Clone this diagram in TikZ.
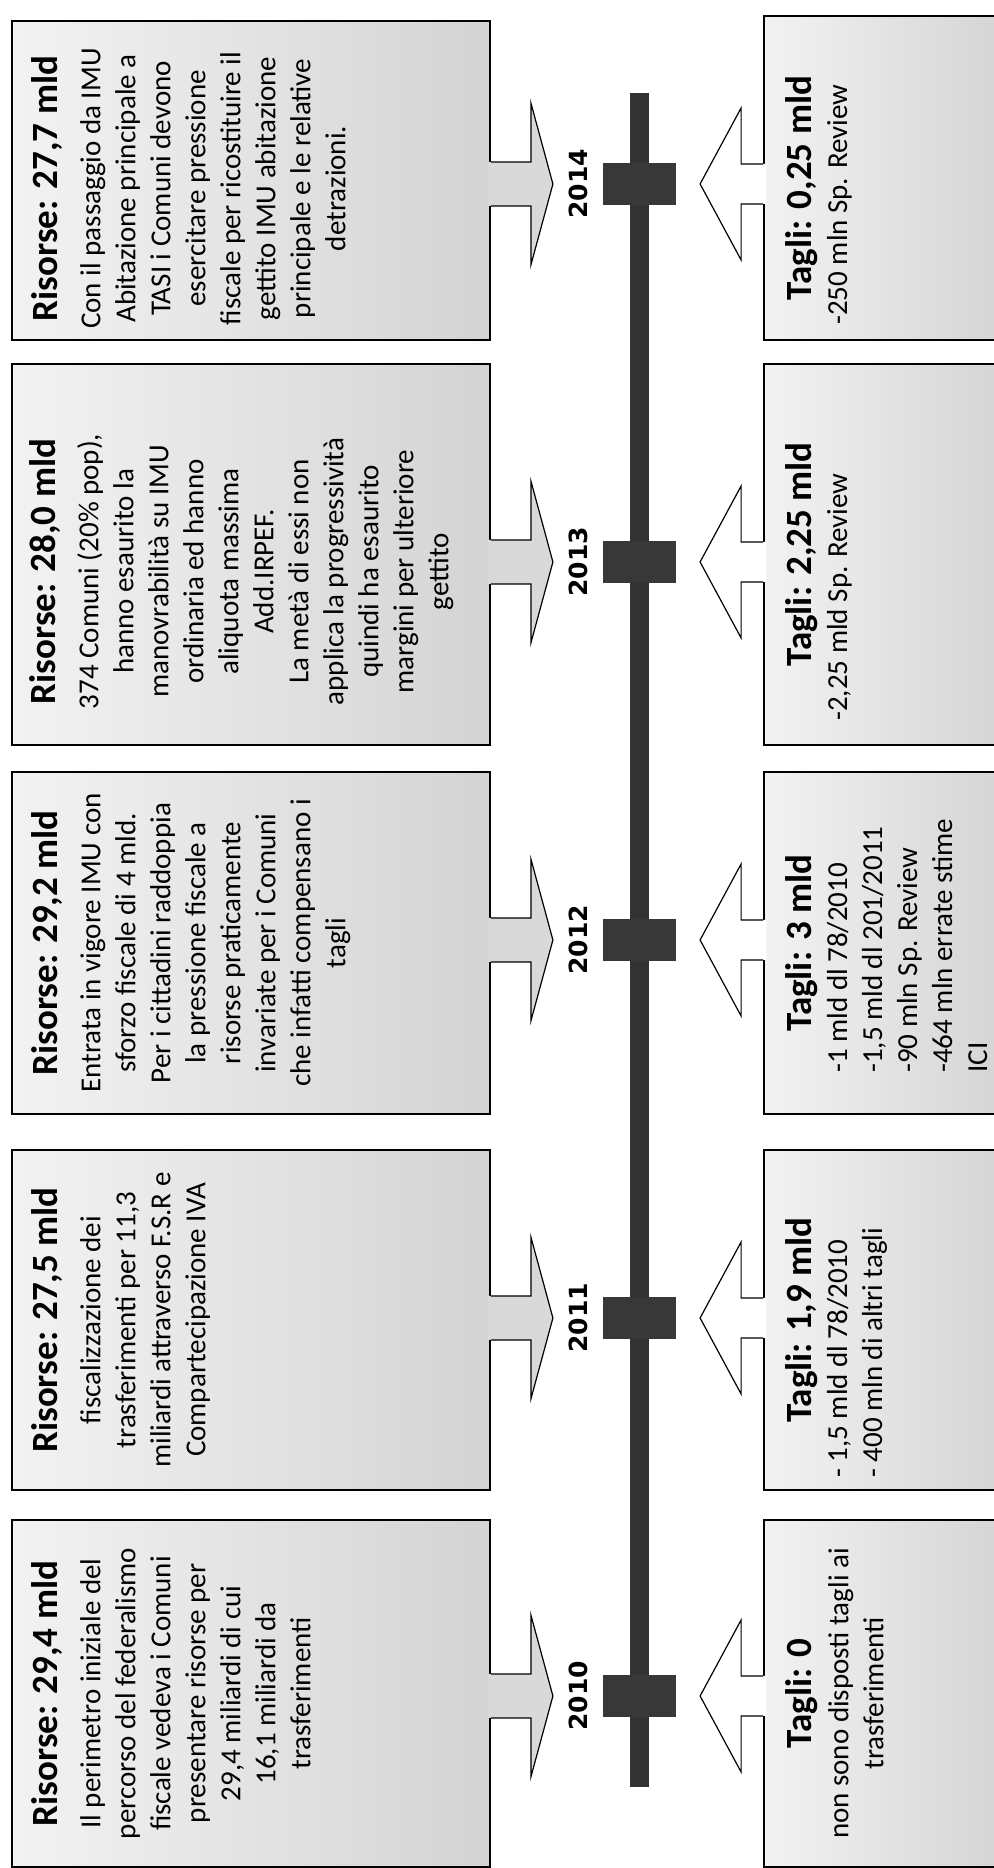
\documentclass[tikz,border=0pt]{standalone}
\usepackage{fontspec}
\setmainfont{Carlito}
\newfontfamily\yearfont{DejaVu Sans}
\usetikzlibrary{positioning,calc}

\newcommand{\boxtitle}[1]{{\fontsize{37}{35}\selectfont\bfseries #1}}

\tikzset{
  rbox/.style={draw, line width=1.8pt, left color=black!5, right color=black!17, minimum width=478pt, inner sep=0pt},
  tbox/.style={draw, line width=1.8pt, left color=black!5, right color=black!17, minimum width=246pt, inner sep=0pt},
  rtext/.style={rotate=90, anchor=north, inner sep=0pt, align=center, font=\fontsize{29}{35}\selectfont},
  tlist/.style={rotate=90, anchor=north west, inner sep=0pt, align=left, font=\fontsize{29}{35}\selectfont},
  axisbar/.style={fill=black!80, minimum width=19pt, minimum height=1694pt, inner sep=0pt},
  tick/.style={fill=black!78, minimum width=73pt, minimum height=42pt, inner sep=0pt},
  yearlbl/.style={rotate=90, inner sep=0pt, font=\yearfont\bfseries\fontsize{25}{25}\selectfont}
}

\begin{document}
\begin{tikzpicture}[x=1pt, y=1pt]
\useasboundingbox (0,0) rectangle (993,1868);

% boxes
\node[rbox, minimum height=347pt] (r2010) at (251,174.5) {};
\node[rbox, minimum height=340pt] (r2011) at (251,548) {};
\node[rbox, minimum height=342pt] (r2012) at (251,925) {};
\node[rbox, minimum height=381pt] (r2013) at (251,1313.5) {};
\node[rbox, minimum height=319pt] (r2014) at (251,1687.5) {};

\node[tbox, minimum height=347pt] (t2010) at (887,174.5) {};
\node[tbox, minimum height=340pt] (t2011) at (887,548) {};
\node[tbox, minimum height=342pt] (t2012) at (887,925) {};
\node[tbox, minimum height=381pt] (t2013) at (887,1313.5) {};
\node[tbox, minimum height=324pt] (t2014) at (887,1690) {};

% timeline
\node[axisbar] (axis) at (639.5,928) {};
\foreach \yr/\ypos in {2010/172,2011/550,2012/928,2013/1306,2014/1684}
  \node[tick] (tk\yr) at (639.5,\ypos) {};

% block arrows
\foreach \yr in {2010,...,2014}{
  \coordinate (ra) at (r\yr.east |- tk\yr.center);
  \fill[black!15] ($(ra)+(-3,22)$) -- ++(43,0) -- ++(0,59) -- ++(22,-81) -- ++(-22,-81) -- ++(0,59) -- ++(-43,0) -- cycle;
  \draw[line width=1.2pt] ($(ra)+(0,22)$) -- ++(40,0) -- ++(0,59) -- ++(22,-81) -- ++(-22,-81) -- ++(0,59) -- ++(-40,0);
  \coordinate (ta) at (t\yr.west |- tk\yr.center);
  \fill[white] ($(ta)+(3,20)$) -- ++(-25,0) -- ++(0,56) -- ++(-41,-76) -- ++(41,-76) -- ++(0,56) -- ++(25,0) -- cycle;
  \draw[line width=1.2pt] ($(ta)+(0,20)$) -- ++(-22,0) -- ++(0,56) -- ++(-41,-76) -- ++(41,-76) -- ++(0,56) -- ++(22,0);
  \node[yearlbl] (yl\yr) at ($(tk\yr.center)+(-61.5,0)$) {\yr};
}

% Risorse
\node[rtext] (rt2010) at ($(r2010.west)+(20,0)$) {\boxtitle{Risorse: 29,4 mld}\\[8pt]
  Il perimetro iniziale del\\percorso del federalismo\\fiscale vedeva i Comuni\\
  presentare risorse per\\29,4 miliardi di cui\\16,1 miliardi da\\trasferimenti};
\node[rtext] (rt2011) at ($(r2011.west)+(20,0)$) {\boxtitle{Risorse: 27,5 mld}\\[8pt]
  fiscalizzazione dei\\trasferimenti per 11,3\\miliardi attraverso F.S.R e\\Compartecipazione IVA};
\node[rtext] (rt2012) at ($(r2012.west)+(20,0)$) {\boxtitle{Risorse: 29,2 mld}\\[8pt]
  Entrata in vigore IMU con\\sforzo fiscale di 4 mld.\\Per i cittadini raddoppia\\
  la pressione fiscale a\\risorse praticamente\\invariate per i Comuni\\
  che infatti compensano i\\tagli};
\node[rtext] (rt2013) at ($(r2013.west)+(18,-17)$) {\boxtitle{Risorse: 28,0 mld}\\[8pt]
  374 Comuni (20\% pop),\\hanno esaurito la\\manovrabilità su IMU\\
  ordinaria ed hanno\\aliquota massima\\Add.IRPEF.\\La metà di essi non\\
  applica la progressività\\quindi ha esaurito\\margini per ulteriore\\gettito};
\node[rtext] (rt2014) at ($(r2014.west)+(20,-8)$) {\boxtitle{Risorse: 27,7 mld}\\[8pt]
  Con il passaggio da IMU\\Abitazione principale a\\TASI i Comuni devono\\
  esercitare pressione\\fiscale per ricostituire il\\gettito IMU abitazione\\
  principale e le relative\\detrazioni.};

% Tagli
\node[rtext] (tt2010) at ($(t2010.west)+(22,0)$) {\boxtitle{Tagli: 0}\\[2pt]
  non sono disposti tagli ai\\trasferimenti};
\node[rtext] (tt2011) at ($(t2011.west)+(22,0)$) {\boxtitle{Tagli: 1,9 mld}};
\node[tlist] (tl2011) at ($(t2011.south -| tt2011.south)+(9,13)$) {- 1,5 mld dl 78/2010\\- 400 mln di altri tagli};
\node[rtext] (tt2012) at ($(t2012.west)+(22,0)$) {\boxtitle{Tagli: 3 mld}};
\node[tlist] (tl2012) at ($(t2012.south -| tt2012.south)+(9,42)$) {-1 mld dl 78/2010\\-1,5 mld dl 201/2011\\-90 mln Sp. Review\\-464 mln errate stime\\ICI};
\node[rtext] (tt2013) at ($(t2013.west)+(22,0)$) {\boxtitle{Tagli: 2,25 mld}};
\node[tlist] (tl2013) at ($(t2013.south -| tt2013.south)+(9,25)$) {-2,25 mld Sp. Review};
\node[rtext] (tt2014) at ($(t2014.west)+(22,-10)$) {\boxtitle{Tagli: 0,25 mld}};
\node[tlist] (tl2014) at ($(t2014.south -| tt2014.south)+(9,16)$) {-250 mln Sp. Review};
\end{tikzpicture}
\end{document}
